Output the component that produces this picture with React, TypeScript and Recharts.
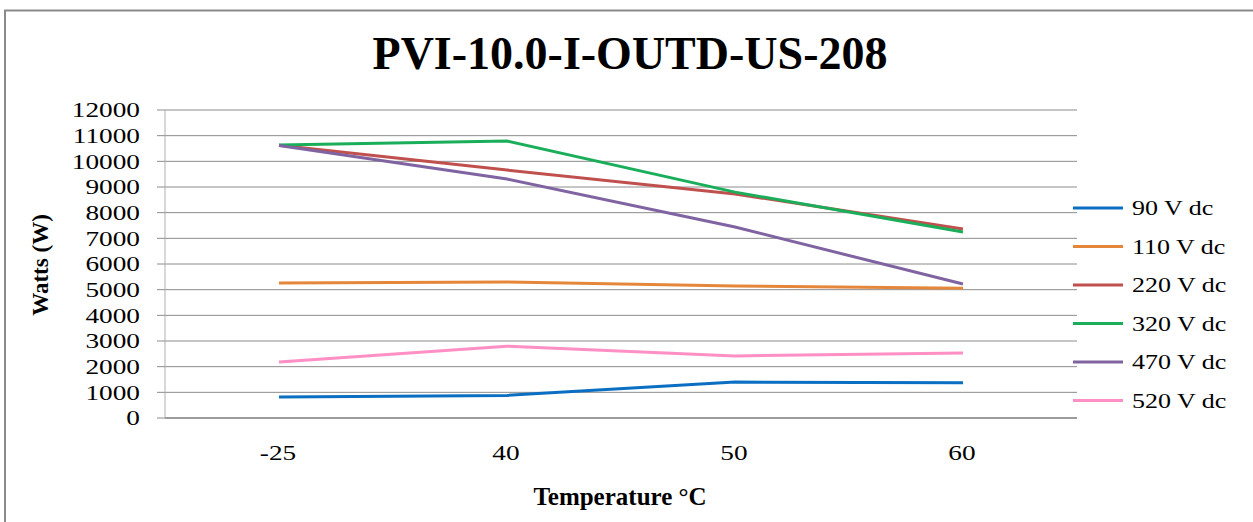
import React from 'react';
import { LineChart, Line, XAxis, YAxis, CartesianGrid, Legend } from 'recharts';

const categories = ['-25', '40', '50', '60'];
const v90 = [820, 880, 1400, 1370];
const v110 = [5260, 5300, 5140, 5060];
const v220 = [10630, 9660, 8730, 7360];
const v320 = [10640, 10790, 8800, 7250];
const v470 = [10620, 9310, 7440, 5220];
const v520 = [2180, 2800, 2420, 2530];
const yTicks = [0, 1000, 2000, 3000, 4000, 5000, 6000, 7000, 8000, 9000, 10000, 11000, 12000];

const seriesDefs = [
  { key: 's90', name: '90 V dc', values: v90, color: '#0A6FC2' },
  { key: 's110', name: '110 V dc', values: v110, color: '#E5873A' },
  { key: 's220', name: '220 V dc', values: v220, color: '#C0504D' },
  { key: 's320', name: '320 V dc', values: v320, color: '#1AAE5A' },
  { key: 's470', name: '470 V dc', values: v470, color: '#8064A2' },
  { key: 's520', name: '520 V dc', values: v520, color: '#FF8FC4' },
];

const data = categories.map((c, i) => {
  const row: Record<string, string | number> = { cat: c };
  seriesDefs.forEach((s) => {
    row[s.key] = s.values[i];
  });
  return row;
});

const FONT = '"Liberation Serif", "Times New Roman", serif';

const YTick = (props: any) => {
  const { x, y, payload } = props;
  return (
    <text
      transform={`translate(${x - 15},${y}) scale(1.3,1)`}
      textAnchor="end"
      dominantBaseline="central"
      fontFamily={FONT}
      fontSize={21}
      fill="#000"
    >
      {payload.value}
    </text>
  );
};

const XTick = (props: any) => {
  const { x, y, payload } = props;
  return (
    <text
      transform={`translate(${x - 1},${y + 42}) scale(1.3,1)`}
      textAnchor="middle"
      fontFamily={FONT}
      fontSize={21}
      fill="#000"
    >
      {payload.value}
    </text>
  );
};

const LegendContent = (props: any) => {
  const payload = [...(props.payload || [])].sort(
    (a: any, b: any) =>
      seriesDefs.findIndex((s) => s.name === a.value) - seriesDefs.findIndex((s) => s.name === b.value)
  );
  return (
    <svg width={176} height={230} style={{ display: 'block', overflow: 'visible' }}>
      {payload.map((p: any, i: number) => {
        const cy = 18 + i * 38.5;
        return (
          <g key={i}>
            <line x1={-4} x2={46} y1={cy} y2={cy} stroke={p.color} strokeWidth={3} />
            <text
              transform={`translate(55,${cy + 7}) scale(1.3,1)`}
              fontFamily={FONT}
              fontSize={20}
              fill="#000"
            >
              {p.value}
            </text>
          </g>
        );
      })}
    </svg>
  );
};

export default function App() {
  return (
    <div style={{ position: 'absolute', left: 0, top: 0, width: 1253, height: 522, background: '#fff', overflow: 'hidden' }}>
      <LineChart
        width={1253}
        height={522}
        data={data}
        margin={{ top: 110, right: 0, bottom: 44, left: 65 }}
      >
        <CartesianGrid horizontal={true} vertical={false} stroke="#8c8c8c" strokeWidth={1} />
        <XAxis
          dataKey="cat"
          height={60}
          padding={{ left: 114, right: 114 }}
          tickLine={false}
          tickSize={0}
          tickMargin={0}
          axisLine={{ stroke: '#8c8c8c', strokeWidth: 1.5 }}
          tick={<XTick />}
          interval={0}
        />
        <YAxis
          width={100}
          domain={[0, 12000]}
          ticks={yTicks}
          interval={0}
          tickSize={8}
          tickMargin={2}
          tickLine={{ stroke: '#8c8c8c' }}
          axisLine={{ stroke: '#b0b0b0' }}
          tick={<YTick />}
        />
        <Legend
          layout="vertical"
          align="right"
          verticalAlign="top"
          content={<LegendContent />}
          wrapperStyle={{ left: 1077, top: 190, width: 176, height: 230 }}
        />
        {seriesDefs.map((s) => (
          <Line
            key={s.key}
            type="linear"
            dataKey={s.key}
            name={s.name}
            stroke={s.color}
            strokeWidth={3}
            dot={false}
            activeDot={false}
            isAnimationActive={false}
          />
        ))}
      </LineChart>
      <svg
        width={1253}
        height={522}
        style={{ position: 'absolute', left: 0, top: 0, pointerEvents: 'none' }}
      >
        <path d="M5,522 V10.5 H1253" fill="none" stroke="#8a8a8a" strokeWidth={2} />
        <text x={630} y={69} textAnchor="middle" fontFamily={FONT} fontWeight="bold" fontSize={46} fill="#000">
          PVI-10.0-I-OUTD-US-208
        </text>
        <text x={620} y={505} textAnchor="middle" fontFamily={FONT} fontWeight="bold" fontSize={25} fill="#000">
          Temperature °C
        </text>
        <text
          transform="translate(48,265) rotate(-90)"
          textAnchor="middle"
          fontFamily={FONT}
          fontWeight="bold"
          fontSize={23}
          fill="#000"
        >
          Watts (W)
        </text>
      </svg>
    </div>
  );
}
